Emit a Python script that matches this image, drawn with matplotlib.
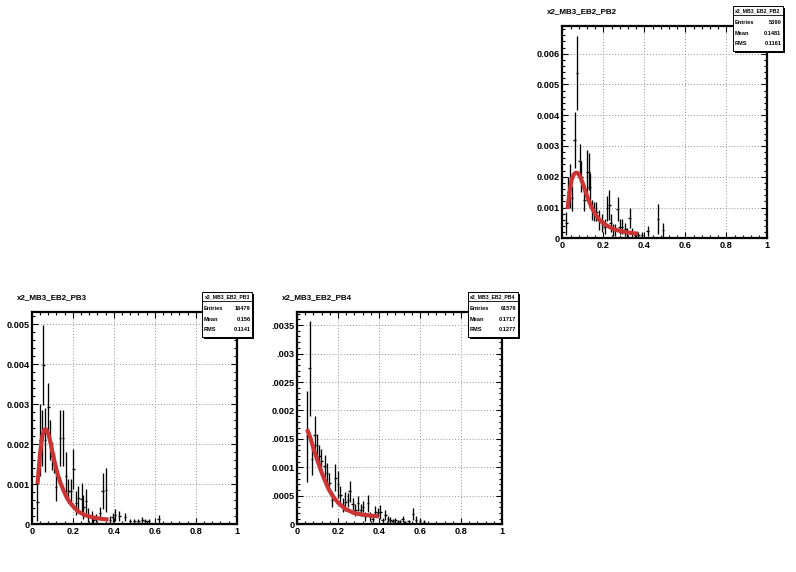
import matplotlib
matplotlib.use("Agg")
import matplotlib.pyplot as plt
from matplotlib.patches import Rectangle
from matplotlib.ticker import MultipleLocator

plt.rcParams['font.family'] = ['Liberation Sans', 'DejaVu Sans']
plt.rcParams['font.weight'] = 'bold'

# --- Data read off the canvas ---
# x2_MB3_EB2_PB2 (top right pad)
x_pb2 = [0.02, 0.027, 0.035, 0.047, 0.06, 0.0715, 0.085, 0.092, 0.107, 0.12, 0.128, 0.133,
         0.145, 0.153, 0.166, 0.177, 0.193, 0.206, 0.218, 0.229, 0.236, 0.247, 0.259, 0.27,
         0.28, 0.29, 0.307, 0.315, 0.328, 0.338, 0.356, 0.37, 0.389, 0.416, 0.467, 0.491]
y_pb2 = [0.00049, 0.0015, 0.0017, 0.0013, 0.0032, 0.00536, 0.0025, 0.002, 0.00125, 0.00216,
         0.00216, 0.00168, 0.00092, 0.00087, 0.00087, 0.0006, 0.00049, 0.00038, 0.00097,
         0.00108, 0.0005, 0.00027, 0.00027, 0.00095, 0.00038, 0.00038, 0.00029, 0.00018,
         0.00065, 0.00018, 0.0001, 0.0001, 0.0001, 0.00024, 0.00062, 0.00027]
e_pb2 = [0.00038, 0.0005, 0.0007, 0.0004, 0.0009, 0.0012, 0.00055, 0.0005, 0.00035, 0.0007,
         0.0006, 0.00045, 0.00033, 0.0003, 0.0003, 0.00032, 0.0003, 0.00025, 0.0004, 0.00048,
         0.0003, 0.0002, 0.0002, 0.0004, 0.00025, 0.00025, 0.0002, 0.00015, 0.00033, 0.00015,
         0.0001, 0.0001, 0.0001, 0.00015, 0.00048, 0.00022]
fit_x_pb2 = [0.025, 0.035, 0.045, 0.055, 0.065, 0.075, 0.085, 0.10, 0.12, 0.14, 0.16, 0.18,
             0.20, 0.22, 0.25, 0.28, 0.31, 0.34, 0.37]
fit_y_pb2 = [0.00095, 0.0015, 0.0019, 0.00207, 0.00213, 0.00212, 0.00203, 0.00178, 0.00138,
             0.00104, 0.00079, 0.00061, 0.00049, 0.0004, 0.0003, 0.00024, 0.0002, 0.00017,
             0.00015]

# x2_MB3_EB2_PB3 (bottom left pad)
x_pb3 = [0.028, 0.041, 0.049, 0.057, 0.065, 0.081, 0.089, 0.098, 0.109, 0.119, 0.138, 0.153,
         0.167, 0.179, 0.19, 0.203, 0.216, 0.228, 0.244, 0.252, 0.265, 0.276, 0.293, 0.3,
         0.315, 0.333, 0.346, 0.363, 0.382, 0.395, 0.406, 0.428, 0.455, 0.48, 0.5, 0.52,
         0.54, 0.555, 0.57, 0.62]
y_pb3 = [0.00055, 0.0021, 0.00215, 0.00398, 0.0021, 0.00293, 0.0021, 0.0017, 0.00152, 0.00094,
         0.00215, 0.00215, 0.0012, 0.00082, 0.00082, 0.00139, 0.00053, 0.00065, 0.00063,
         0.00044, 0.00057, 0.00023, 0.00018, 0.0001, 0.00015, 0.00027, 0.00082, 0.00086,
         0.0001, 0.00017, 0.00023, 0.0002, 0.00017, 0.00008, 0.00008, 0.00008, 0.0001,
         0.00008, 0.00008, 0.00012]
e_pb3 = [0.00046, 0.0009, 0.0007, 0.001, 0.0008, 0.0006, 0.0005, 0.00035, 0.00025, 0.00035,
         0.0007, 0.0007, 0.0006, 0.0003, 0.0003, 0.0005, 0.0003, 0.0003, 0.0004, 0.0003,
         0.0003, 0.00018, 0.00015, 0.0001, 0.0001, 0.00015, 0.00045, 0.00055, 0.0001,
         0.00012, 0.00015, 0.00013, 0.0001, 0.00006, 0.00006, 0.00006, 0.00007, 0.00006,
         0.00006, 0.0001]
fit_x_pb3 = [0.028, 0.035, 0.041, 0.048, 0.054, 0.062, 0.07, 0.08, 0.089, 0.1, 0.112, 0.125,
             0.14, 0.155, 0.17, 0.19, 0.21, 0.23, 0.26, 0.29, 0.32, 0.35, 0.375]
fit_y_pb3 = [0.001, 0.0014, 0.00177, 0.00208, 0.00225, 0.00236, 0.00237, 0.00228, 0.0021,
             0.00183, 0.00155, 0.00128, 0.00104, 0.00085, 0.00068, 0.00052, 0.0004, 0.00031,
             0.00023, 0.00018, 0.00015, 0.00013, 0.00012]

# x2_MB3_EB2_PB4 (bottom middle pad)
x_pb4 = [0.049, 0.062, 0.073, 0.086, 0.098, 0.109, 0.119, 0.135, 0.146, 0.158, 0.171, 0.187,
         0.2, 0.211, 0.223, 0.236, 0.249, 0.257, 0.272, 0.285, 0.298, 0.31, 0.322, 0.333,
         0.346, 0.358, 0.369, 0.382, 0.395, 0.407, 0.418, 0.431, 0.444, 0.455, 0.466, 0.48,
         0.492, 0.503, 0.515, 0.528, 0.545, 0.566, 0.58, 0.6, 0.62]
y_pb4 = [0.00155, 0.00274, 0.00114, 0.00157, 0.00139, 0.0012, 0.00111, 0.00102, 0.0009,
         0.00073, 0.00043, 0.00082, 0.0007, 0.00052, 0.00034, 0.0004, 0.00043, 0.00058,
         0.00036, 0.00025, 0.00037, 0.00025, 0.00031, 0.00014, 0.00037, 0.00014, 0.0001,
         0.00022, 0.0002, 0.00022, 0.00007, 0.00017, 0.00009, 0.00008, 0.00006, 0.00007,
         0.00004, 0.00005, 0.00009, 0.00003, 0.00005, 0.00018, 0.00008, 0.00006, 0.00004]
e_pb4 = [0.0008, 0.00084, 0.00028, 0.00033, 0.0002, 0.0002, 0.00022, 0.0002, 0.00018, 0.00018,
         0.00012, 0.00024, 0.00024, 0.00015, 0.00012, 0.00016, 0.00012, 0.00018, 0.0001,
         0.0001, 0.00013, 0.0001, 0.0001, 0.00008, 0.00015, 0.00008, 0.00006, 0.0001, 0.00008,
         0.00012, 0.00004, 0.00009, 0.00005, 0.00005, 0.00004, 0.00004, 0.00003, 0.00003,
         0.00005, 0.00003, 0.00003, 0.0001, 0.00006, 0.00004, 0.00003]
fit_x_pb4 = [0.049, 0.065, 0.081, 0.098, 0.114, 0.13, 0.154, 0.179, 0.203, 0.236, 0.276,
             0.317, 0.366, 0.398]
fit_y_pb4 = [0.00167, 0.00152, 0.00132, 0.00114, 0.00097, 0.00082, 0.00062, 0.00047, 0.00037,
             0.00027, 0.0002, 0.00017, 0.00015, 0.00014]

x_ticks = [0, 0.2, 0.4, 0.6, 0.8, 1]
x_labels = ["0", "0.2", "0.4", "0.6", "0.8", "1"]

W, H = 796, 572
PAD_W, PAD_H = W / 3.0, H / 2.0
BIN_HALF = 0.0065
FIT_COLOR = "#cc3333"


def fx(px):
    return px / W


def fy(py):
    return 1 - py / H


def draw_pad(fig, col, row, name, xs, ys, es, fxs, fys, ymax, ymajor, yticks, ylabels, stats):
    ox, oy = col * PAD_W, row * PAD_H
    left, right = ox + 31.7, ox + 236.7
    top, bottom = oy + 26, oy + 238.3
    ax = fig.add_axes([fx(left), fy(bottom), (right - left) / W, (bottom - top) / H])

    # histogram points with error bars, fit on top
    ax.errorbar(xs, ys, yerr=es, xerr=BIN_HALF, fmt='none', ecolor='black',
                elinewidth=0.95, capsize=0, zorder=3)
    ax.plot(fxs, fys, color=FIT_COLOR, lw=3.0, solid_capstyle='butt', zorder=4)

    ax.set_xlim(0, 1)
    ax.set_ylim(0, ymax)
    ax.set_xticks(x_ticks)
    ax.set_xticklabels(x_labels)
    ax.set_yticks(yticks)
    ax.set_yticklabels(ylabels)
    ax.xaxis.set_minor_locator(MultipleLocator(0.04))
    ax.yaxis.set_minor_locator(MultipleLocator(ymajor / 5))
    ax.tick_params(which='both', direction='in', top=True, right=True,
                   labelsize=6.6, width=0.8, pad=1.6)
    ax.tick_params(which='major', length=4.5)
    ax.tick_params(which='minor', length=2.3)
    for lab in ax.get_xticklabels() + ax.get_yticklabels():
        lab.set_fontweight('bold')
    for sp in ax.spines.values():
        sp.set_linewidth(1.6)
    ax.grid(True, which='major', linestyle=(0, (1, 2)), color='#909090', linewidth=0.7)
    ax.set_axisbelow(True)

    # pad title
    fig.text(fx(ox + 16.7), fy(oy + 11.7), name, fontsize=5.8, fontweight='bold',
             ha='left', va='center')

    # stats box with shadow
    bl, br = ox + 202.3, ox + 252.3
    bt, bb = oy + 6, oy + 50.7
    fig.patches.append(Rectangle((fx(bl + 2), fy(bb + 2)), (br - bl) / W, (bb - bt) / H,
                                 transform=fig.transFigure, facecolor='black',
                                 edgecolor='none', zorder=5))
    fig.patches.append(Rectangle((fx(bl), fy(bb)), (br - bl) / W, (bb - bt) / H,
                                 transform=fig.transFigure, facecolor='white',
                                 edgecolor='black', linewidth=0.7, zorder=6))
    fig.lines.append(plt.Line2D([fx(bl), fx(br)], [fy(oy + 15), fy(oy + 15)],
                                transform=fig.transFigure, color='black', lw=0.6, zorder=7))
    fig.text(fx((bl + br) / 2), fy(oy + 10.6), name, fontsize=3.7, fontweight='bold',
             ha='center', va='center', zorder=8)
    for i, (key, val) in enumerate(stats):
        yy = fy(oy + 22.7 + i * 10.4)
        fig.text(fx(bl + 1.5), yy, key, fontsize=4.1, fontweight='bold',
                 ha='left', va='center', zorder=8)
        fig.text(fx(br - 1.5), yy, val, fontsize=4.1, fontweight='bold',
                 ha='right', va='center', zorder=8)
    return ax


def main():
    fig = plt.figure(figsize=(W / 100, H / 100), dpi=100, facecolor='white')

    draw_pad(fig, 2, 0, "x2_MB3_EB2_PB2", x_pb2, y_pb2, e_pb2, fit_x_pb2, fit_y_pb2,
             0.0069, 0.001,
             [0, 0.001, 0.002, 0.003, 0.004, 0.005, 0.006],
             ["0", "0.001", "0.002", "0.003", "0.004", "0.005", "0.006"],
             [("Entries", "5390"), ("Mean", "0.1481"), ("RMS", "0.1161")])

    draw_pad(fig, 0, 1, "x2_MB3_EB2_PB3", x_pb3, y_pb3, e_pb3, fit_x_pb3, fit_y_pb3,
             0.0053, 0.001,
             [0, 0.001, 0.002, 0.003, 0.004, 0.005],
             ["0", "0.001", "0.002", "0.003", "0.004", "0.005"],
             [("Entries", "16479"), ("Mean", "0.156"), ("RMS", "0.1141")])

    draw_pad(fig, 1, 1, "x2_MB3_EB2_PB4", x_pb4, y_pb4, e_pb4, fit_x_pb4, fit_y_pb4,
             0.00373, 0.0005,
             [0, 0.0005, 0.001, 0.0015, 0.002, 0.0025, 0.003, 0.0035],
             ["0", ".0005", "0.001", ".0015", "0.002", ".0025", ".003", ".0035"],
             [("Entries", "61576"), ("Mean", "0.1717"), ("RMS", "0.1277")])

    fig.savefig("out.png", dpi=100, facecolor='white')


if __name__ == "__main__":
    main()
